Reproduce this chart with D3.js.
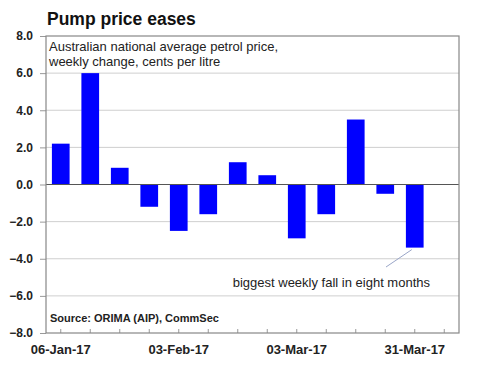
<!DOCTYPE html>
<html>
<head>
<meta charset="utf-8">
<script src="https://cdn.jsdelivr.net/npm/d3@7"></script>
<style>
  body { margin: 0; background: #fff; }
  svg { display: block; font-family: "Liberation Sans", Arial, sans-serif; }
  .axis path { display: none; }
</style>
</head>
<body>
<svg id="chart"></svg>
<script>
// weekly categories (last one has no data, keeps the empty slot on the right)
const weeks = ['06-Jan-17', '13-Jan-17', '20-Jan-17', '27-Jan-17', '03-Feb-17', '10-Feb-17',
  '17-Feb-17', '24-Feb-17', '03-Mar-17', '10-Mar-17', '17-Mar-17', '24-Mar-17', '31-Mar-17', '07-Apr-17'];
const changes = [2.2, 6.0, 0.9, -1.2, -2.5, -1.6, 1.2, 0.5, -2.9, -1.6, 3.5, -0.5, -3.4];
const xTickLabels = ['06-Jan-17', '03-Feb-17', '03-Mar-17', '31-Mar-17'];
const yTicks = [-8, -6, -4, -2, 0, 2, 4, 6, 8];

const width = 477, height = 366;
const margin = { top: 36, right: 18, bottom: 33, left: 46 };
const w = width - margin.left - margin.right;
const h = height - margin.top - margin.bottom;

const svg = d3.select('#chart').attr('width', width).attr('height', height);

// Title
svg.append('text')
  .attr('x', 47).attr('y', 25)
  .style('font-size', '17.5px').style('font-weight', 'bold').style('fill', '#111')
  .text('Pump price eases');

const chart = svg.append('g')
  .attr('transform', `translate(${margin.left},${margin.top})`);

const x = d3.scaleBand().domain(weeks).range([0, w]).padding(0);
const y = d3.scaleLinear().domain([-8, 8]).range([h, 0]);

// gridlines
chart.selectAll('.grid')
  .data(yTicks.filter(d => d !== 0 && d !== 8 && d !== -8))
  .join('line')
  .attr('class', 'grid')
  .attr('x1', 0).attr('x2', w)
  .attr('y1', d => y(d)).attr('y2', d => y(d))
  .style('stroke', '#cfcfcf').style('stroke-width', 1);

// y axis
const yAxis = d3.axisLeft(y).tickValues(yTicks).tickFormat(d3.format('.1f')).tickSize(6).tickPadding(7);
chart.append('g').attr('class', 'axis y-axis').call(yAxis)
  .call(g => g.selectAll('line').style('stroke', '#999'))
  .call(g => g.selectAll('text').style('font-size', '12px').style('font-weight', 'bold').style('fill', '#222'));

// bars
const barW = x.bandwidth() * 0.6;
chart.selectAll('.bar')
  .data(changes)
  .join('rect')
  .attr('class', 'bar')
  .attr('x', (d, i) => x(weeks[i]) + (x.bandwidth() - barW) / 2)
  .attr('y', d => y(Math.max(0, d)))
  .attr('width', barW)
  .attr('height', d => Math.abs(y(d) - y(0)))
  .style('fill', '#0000ff');

// zero line
chart.append('line')
  .attr('x1', 0).attr('x2', w)
  .attr('y1', y(0)).attr('y2', y(0))
  .style('stroke', '#555').style('stroke-width', 1);

// x axis: inner ticks at band centres
const xAxis = d3.axisBottom(x).tickSizeInner(-4).tickSizeOuter(0).tickPadding(12)
  .tickFormat(d => xTickLabels.includes(d) ? d : '');
chart.append('g').attr('class', 'axis x-axis')
  .attr('transform', `translate(0,${h})`)
  .call(xAxis)
  .call(g => g.selectAll('line').style('stroke', '#999'))
  .call(g => g.selectAll('text').style('font-size', '13px').style('font-weight', 'bold').style('fill', '#222'));

// frame
chart.append('rect')
  .attr('x', 0).attr('y', 0).attr('width', w).attr('height', h)
  .style('fill', 'none').style('stroke', '#888').style('stroke-width', 1.2);

// subtitle
const sub = chart.append('text')
  .attr('x', 3).attr('y', 15)
  .style('font-size', '13px').style('fill', '#222');
sub.append('tspan').attr('x', 3).text('Australian national average petrol price,');
sub.append('tspan').attr('x', 3).attr('dy', 14.5).text('weekly change, cents per litre');

// annotation
const lastIdx = 12;
const bx = x(weeks[lastIdx]) + x.bandwidth() / 2;
chart.append('line')
  .attr('x1', 386 - margin.left).attr('y1', 267 - margin.top)
  .attr('x2', bx - 3).attr('y2', y(changes[lastIdx]) + 2)
  .style('stroke', '#9aa6c8').style('stroke-width', 1);
chart.append('text')
  .attr('x', 430 - margin.left).attr('y', 287 - margin.top)
  .style('text-anchor', 'end').style('font-size', '13px').style('fill', '#222')
  .text('biggest weekly fall in eight months');

// source
chart.append('text')
  .attr('x', 4).attr('y', 322 - margin.top)
  .style('font-size', '11px').style('font-weight', 'bold').style('fill', '#222')
  .text('Source: ORIMA (AIP), CommSec');
</script>
</body>
</html>
